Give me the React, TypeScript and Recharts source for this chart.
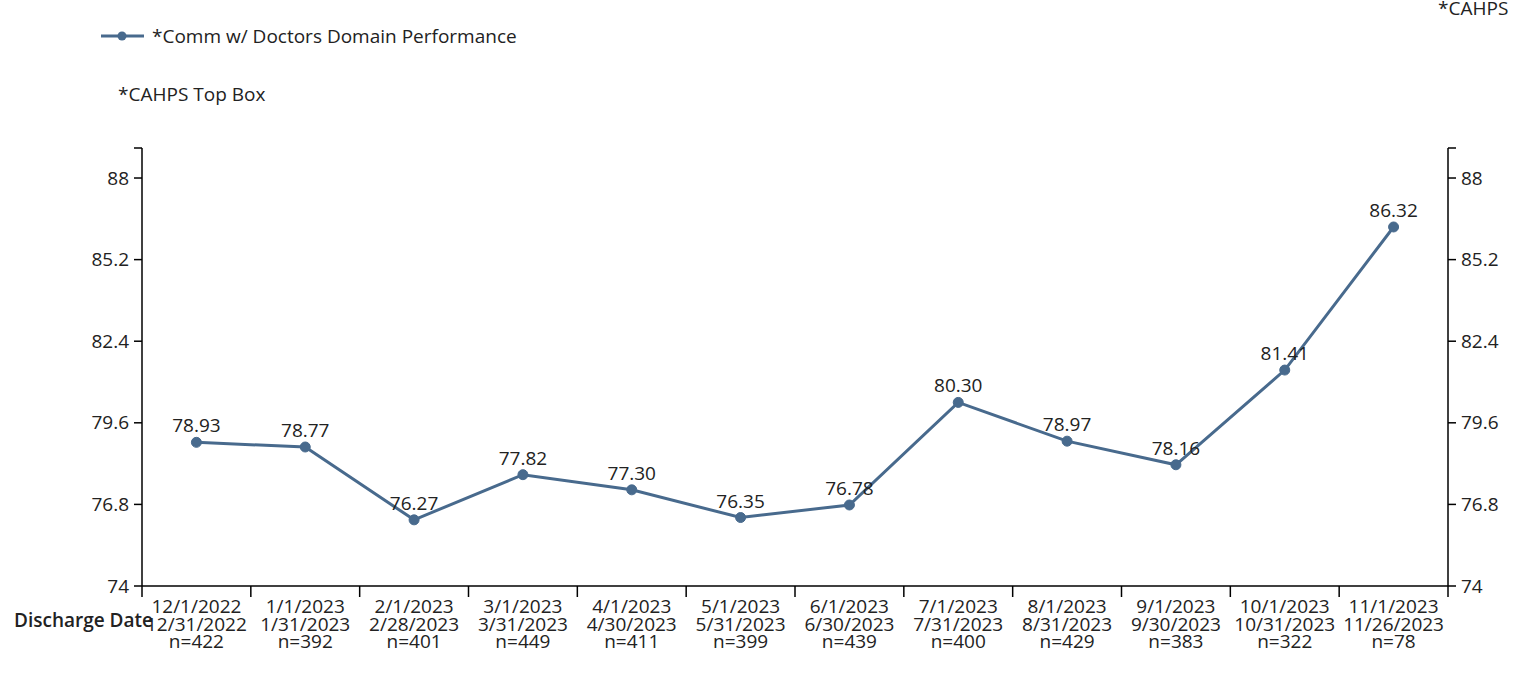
import { LineChart, Line, XAxis, YAxis, CartesianGrid, LabelList } from 'recharts';

const startDates = ['12/1/2022', '1/1/2023', '2/1/2023', '3/1/2023', '4/1/2023', '5/1/2023', '6/1/2023', '7/1/2023', '8/1/2023', '9/1/2023', '10/1/2023', '11/1/2023'];
const endDates = ['12/31/2022', '1/31/2023', '2/28/2023', '3/31/2023', '4/30/2023', '5/31/2023', '6/30/2023', '7/31/2023', '8/31/2023', '9/30/2023', '10/31/2023', '11/26/2023'];
const counts = [422, 392, 401, 449, 411, 399, 439, 400, 429, 383, 322, 78];
const scores = [78.93, 78.77, 76.27, 77.82, 77.3, 76.35, 76.78, 80.3, 78.97, 78.16, 81.41, 86.32];
const yTicks = [74, 76.8, 79.6, 82.4, 85.2, 88];
const yTop = 89.03;

const data = startDates.map((s, i) => ({ name: s, end: endDates[i], n: counts[i], score: scores[i] }));

const LINE = '#486a8d';
const FONT = '"Open Sans", "Noto Sans", sans-serif';
const FS = 19;

const XTick = (props: any) => {
  const { x, y, payload, index, width, visibleTicksCount } = props;
  const half = payload.offset || width / visibleTicksCount / 2;
  const d = data[index];
  return (
    <g>
      <line x1={x - half} x2={x - half} y1={y} y2={y + 11} stroke="#000" strokeWidth={1.5} />
      {index === visibleTicksCount - 1 && (
        <line x1={x + half} x2={x + half} y1={y} y2={y + 11} stroke="#000" strokeWidth={1.5} />
      )}
      <text x={x} y={y} textAnchor="middle" fontSize={FS} fill="#222" fontFamily={FONT}>
        <tspan x={x} dy={27}>{d.name}</tspan>
        <tspan x={x} dy={17.5}>{d.end}</tspan>
        <tspan x={x} dy={17.5}>n={d.n}</tspan>
      </text>
    </g>
  );
};

const YTick = (props: any) => {
  const { x, y, payload, textAnchor } = props;
  if (payload.value === yTop) return <g />;
  return (
    <text x={x} y={y} dy={6.5} textAnchor={textAnchor} fontSize={FS} fill="#222" fontFamily={FONT}>
      {payload.value}
    </text>
  );
};

export default function App() {
  return (
    <div style={{ position: 'absolute', left: 0, top: 0, width: 1528, height: 700, fontFamily: FONT, color: '#222' }}>
      <LineChart width={1528} height={700} data={data} margin={{ top: 148, right: 20, bottom: 54, left: 82 }}>
        <CartesianGrid vertical={false} stroke="#d9d9d9" strokeWidth={1.5} horizontalValues={yTicks} />
        <XAxis
          dataKey="name"
          scale="band"
          interval={0}
          tickLine={false}
          tickSize={0}
          tickMargin={0}
          height={60}
          stroke="#000"
          strokeWidth={1.5}
          tick={<XTick />}
        />
        <YAxis
          yAxisId="left"
          type="number"
          domain={[74, yTop]}
          ticks={[...yTicks, yTop]}
          width={60}
          tickSize={8}
          tickMargin={5}
          stroke="#000"
          strokeWidth={1.5}
          tick={<YTick />}
        />
        <YAxis
          yAxisId="right"
          type="number"
          orientation="right"
          domain={[74, yTop]}
          ticks={[...yTicks, yTop]}
          width={60}
          tickSize={8}
          tickMargin={5}
          stroke="#000"
          strokeWidth={1.5}
          tick={<YTick />}
        />
        {/* mirror axis needs a series bound to it so its ticks render */}
        <Line
          yAxisId="right"
          dataKey="score"
          stroke="none"
          dot={false}
          activeDot={false}
          legendType="none"
          isAnimationActive={false}
        />
        <Line
          yAxisId="left"
          type="linear"
          dataKey="score"
          stroke={LINE}
          strokeWidth={3}
          dot={{ r: 5, fill: LINE, stroke: LINE, strokeWidth: 1 }}
          activeDot={false}
          isAnimationActive={false}
        >
          <LabelList
            dataKey="score"
            position="top"
            offset={10}
            formatter={(v: any) => Number(v).toFixed(2)}
            style={{ fontSize: FS, fill: '#222', fontFamily: FONT }}
          />
        </Line>
      </LineChart>
      <div style={{ position: 'absolute', left: 100, top: 23, display: 'flex', alignItems: 'center', fontSize: FS }}>
        <svg width={52} height={12}>
          <line x1={1} x2={44} y1={6} y2={6} stroke={LINE} strokeWidth={3} />
          <circle cx={22} cy={6} r={4.5} fill={LINE} />
        </svg>
        <span>*Comm w/ Doctors Domain Performance</span>
      </div>
      <div style={{ position: 'absolute', left: 118, top: 81, fontSize: FS }}>*CAHPS Top Box</div>
      <div style={{ position: 'absolute', left: 1438, top: -5, fontSize: FS }}>*CAHPS</div>
      <div style={{ position: 'absolute', left: 14, top: 607, fontSize: FS, fontWeight: 600 }}>Discharge Date</div>
    </div>
  );
}
